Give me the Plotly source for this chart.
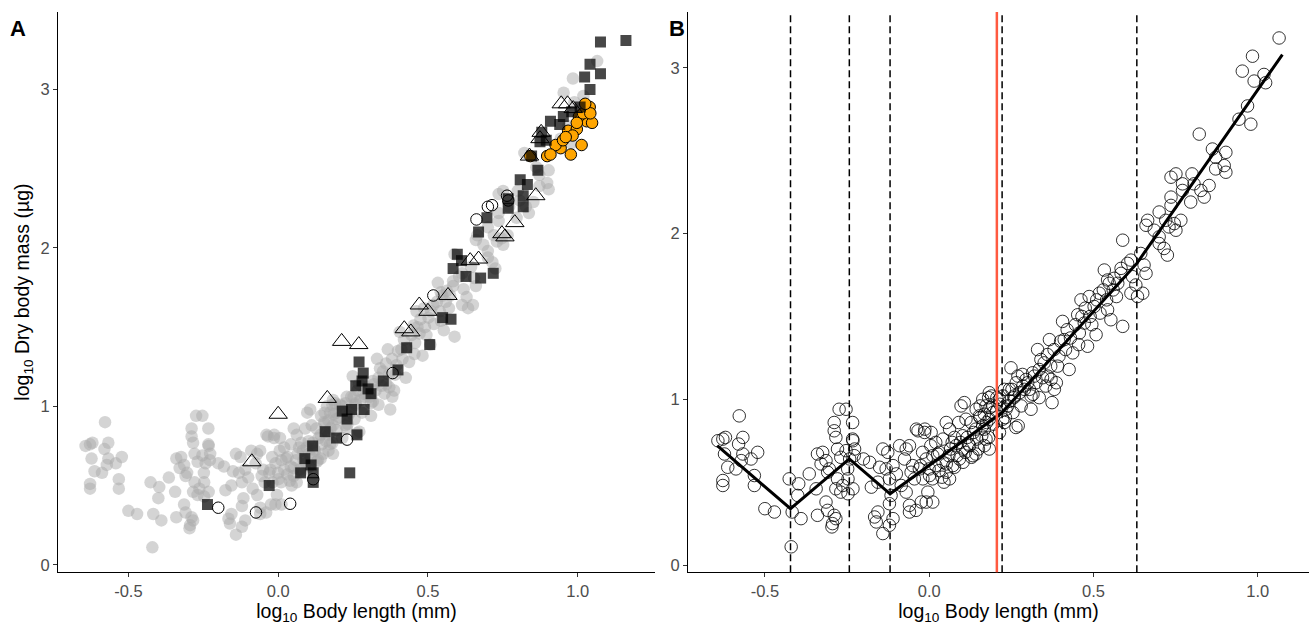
import plotly.graph_objects as go

# Full sample: log10 body length (mm) vs log10 dry body mass (ug)
body_len = [
    -0.578, -0.643, -0.628, -0.620, -0.567, -0.580, -0.623, -0.567, -0.542, -0.522,
    -0.613, -0.588, -0.572, -0.628, -0.628, -0.532, -0.532, -0.500, -0.471, -0.426,
    -0.397, -0.400, -0.417, -0.390, -0.420,
    -0.365, -0.340, -0.324, -0.329, -0.314, -0.304, -0.344, -0.340, -0.314, -0.309,
    -0.289, -0.294, -0.296, -0.284, -0.289, -0.289, -0.284, -0.274, -0.253, -0.233,
    -0.279, -0.269, -0.253, -0.248, -0.279, -0.263, -0.269, -0.284, -0.309, -0.233,
    -0.228,
    -0.232, -0.227, -0.242, -0.247, -0.232, -0.247, -0.200, -0.181, -0.176, -0.156,
    -0.141, -0.126, -0.151, -0.131, -0.110, -0.100, -0.121, -0.116, -0.121, -0.110,
    -0.121, -0.141, -0.161, -0.156, -0.166, -0.090, -0.070, -0.060, -0.075, -0.085,
    -0.070, -0.060, -0.060, -0.040, -0.024, -0.009, 0.011, -0.004, -0.034, -0.014,
    0.006, -0.050, -0.030, -0.009, 0.011, -0.019, 0.001, 0.031, 0.042, 0.052,
    0.062, 0.042, 0.062, 0.052, 0.082, 0.092, 0.072, 0.102, 0.123, 0.112,
    0.128, 0.097, 0.107, 0.133, 0.143, 0.153, 0.163, 0.173, 0.163, 0.183,
    0.194, 0.183, 0.214, 0.224, 0.214, 0.244, 0.234,
    0.173, 0.183, 0.168, 0.229, 0.239, 0.229, 0.264, 0.249, 0.270, 0.259,
    0.290, 0.280, 0.310, 0.300, 0.320, 0.330, 0.340, 0.366, 0.371, 0.381,
    0.391, 0.406, 0.411, 0.426, 0.437, 0.452, 0.457, 0.472, 0.482, 0.462,
    0.487, 0.502, 0.508, 0.518, 0.543, 0.533, 0.548, 0.553, 0.589, 0.563,
    0.584, 0.604, 0.619, 0.629, 0.634, 0.650, 0.644, 0.614,
    1.065, 0.984, 0.953, 1.019, 0.989, 1.024, 0.969, 0.943, 0.979, 0.822,
    0.862, 0.903, 0.872, 0.898, 0.872, 0.903, 0.751, 0.736, 0.800, 0.771,
    0.806, 0.852, 0.771, 0.827, 0.736, 0.837, 0.796, 0.736, 0.700, 0.665,
    0.660, 0.720, 0.766, 0.746, 0.730, 0.685, 0.700, 0.751, 0.589, 0.715,
    0.725, 0.700, 0.654, 0.660, 0.584, 0.543, 0.574, 0.614,
    0.284, 0.387, 0.355, 0.361, 0.316, 0.271, 0.181, 0.168, 0.142, 0.129,
    0.103, 0.077, 0.039, 0.116, 0.142, 0.155, 0.168, 0.181, 0.194, 0.077,
    0.103, 0.065, 0.090, -0.013, -0.039, 0.026, 0.052, 0.000, -0.026, 0.258,
    0.310, 0.335, 0.374, 0.232, 0.206, 0.252,
    0.195, 0.205, 0.215, 0.190, 0.225, 0.245, 0.255, 0.265, 0.275, 0.285,
    0.295, 0.305, 0.315, 0.325, 0.335, 0.345, 0.350, 0.360, 0.370, 0.380,
    0.395, 0.400, 0.415, 0.420, 0.430, 0.445, 0.455, 0.465, 0.475, 0.490,
    0.495, 0.510, 0.520, 0.530, 0.540, 0.560, 0.570, 0.145, 0.135, 0.120,
    0.110, 0.095, 0.085, 0.060, 0.070, 0.150, 0.160, 0.175, 0.185, 0.155,
    0.030, 0.020, 0.010, 0.045, -0.045, -0.055, -0.020, 0.005, 0.020,
]
body_mass = [
    0.90, 0.75, 0.76, 0.77, 0.77, 0.73, 0.67, 0.67, 0.64, 0.68,
    0.59, 0.58, 0.63, 0.51, 0.48, 0.54, 0.48, 0.34, 0.32, 0.52,
    0.49, 0.42, 0.32, 0.28, 0.11,
    0.55, 0.67, 0.68, 0.61, 0.63, 0.58, 0.46, 0.30, 0.38, 0.33,
    0.30, 0.25, 0.23, 0.28, 0.86, 0.81, 0.77, 0.94, 0.94, 0.86,
    0.70, 0.65, 0.69, 0.58, 0.52, 0.48, 0.44, 0.46, 0.56, 0.76,
    0.66,
    0.75, 0.70, 0.64, 0.52, 0.46, 0.43, 0.64, 0.62, 0.47, 0.50,
    0.70, 0.68, 0.59, 0.58, 0.60, 0.55, 0.52, 0.42, 0.37, 0.28,
    0.24, 0.19, 0.26, 0.32, 0.29, 0.72, 0.70, 0.72, 0.64, 0.48,
    0.44, 0.36, 0.32, 0.33, 0.38, 0.38, 0.38, 0.44, 0.81, 0.80,
    0.80, 0.60, 0.58, 0.64, 0.66, 0.52, 0.54, 0.68, 0.62, 0.56,
    0.52, 0.76, 0.82, 0.86, 0.72, 0.64, 0.60, 0.78, 0.72, 0.88,
    0.86, 0.96, 0.98, 0.66, 0.94, 0.90, 0.84, 0.76, 1.00, 1.04,
    0.92, 0.70, 0.80, 0.88, 1.00, 1.06, 0.94,
    0.96, 0.88, 0.82, 1.06, 0.96, 0.86, 0.83, 1.19, 1.14, 1.02,
    1.06, 0.96, 1.02, 1.10, 1.14, 1.30, 1.24, 1.36, 1.12, 1.06,
    1.20, 1.47, 1.36, 1.18, 1.28, 1.51, 1.40, 1.46, 1.32, 1.60,
    1.62, 1.56, 1.39, 1.64, 1.54, 1.78, 1.70, 1.48, 1.44, 1.73,
    1.76, 1.82, 1.74, 1.69, 1.62, 1.64, 1.88, 1.84,
    3.18, 3.07, 2.98, 2.96, 2.92, 2.91, 2.77, 2.69, 2.66, 2.60,
    2.51, 2.49, 2.46, 2.41, 2.39, 2.37, 2.36, 2.34, 2.36, 2.30,
    2.30, 2.29, 2.26, 2.26, 2.22, 2.22, 2.19, 2.17, 2.13, 2.08,
    2.05, 2.08, 2.08, 2.06, 2.04, 2.02, 1.98, 2.02, 1.96, 1.91,
    1.87, 1.94, 1.81, 1.76, 1.79, 1.72, 1.70, 1.64,
    1.15, 1.10, 1.08, 1.14, 1.03, 0.84, 0.77, 0.72, 0.67, 0.65,
    0.62, 0.59, 0.53, 0.77, 0.82, 0.89, 0.91, 1.01, 0.96, 0.77,
    0.70, 0.70, 0.86, 0.82, 0.82, 0.67, 0.61, 0.58, 0.60, 1.01,
    0.94, 1.01, 0.98, 0.89, 1.01, 1.06,
    0.85, 0.93, 0.97, 1.02, 1.02, 0.99, 0.92, 1.10, 1.04, 1.08,
    1.12, 1.06, 1.16, 1.10, 1.18, 1.13, 1.22, 1.27, 1.20, 1.30,
    1.26, 1.35, 1.30, 1.42, 1.37, 1.45, 1.33, 1.50, 1.55, 1.50,
    1.45, 1.60, 1.52, 1.66, 1.60, 1.66, 1.62, 0.76, 0.80, 0.73,
    0.68, 0.74, 0.66, 0.66, 0.74, 0.70, 0.78, 0.86, 0.95, 0.96,
    0.57, 0.60, 0.52, 0.50, 0.52, 0.56, 0.68, 0.72, 0.74,
]

# Comparison groups in panel A
sq_len = [1.076, 1.161, 1.041, 1.076, 1.023, 1.041, 1.008, 0.980, 0.952, 0.909,
          0.940, 0.880, 0.874, 0.895, 0.846, 0.867, 0.808, 0.832, 0.818, 0.768,
          0.818, 0.768, 0.697, 0.669, 0.598, 0.584, 0.627, 0.676, 0.718, 0.612,
          0.549, 0.577, 0.506, 0.429, 0.400, 0.351, 0.270, 0.284, 0.280, 0.259,
          0.300, 0.310, 0.287, 0.245, 0.214, 0.230, 0.263, 0.195, 0.157, 0.115,
          0.089, 0.110, 0.075, 0.117, 0.117, 0.239, -0.030, -0.236]
sq_mass = [3.30, 3.31, 3.16, 3.10, 3.08, 3.00, 2.89, 2.86, 2.83, 2.80,
           2.78, 2.73, 2.67, 2.68, 2.58, 2.49, 2.43, 2.40, 2.33, 2.31,
           2.26, 2.25, 2.19, 2.10, 1.96, 1.87, 1.82, 1.81, 1.84, 1.92,
           1.56, 1.55, 1.39, 1.37, 1.23, 1.16, 1.28, 1.21, 1.16, 1.13,
           1.11, 1.08, 0.98, 0.98, 0.97, 0.92, 0.82, 0.80, 0.84, 0.75,
           0.67, 0.63, 0.58, 0.58, 0.52, 0.58, 0.50, 0.38]

tri_len = [0.945, 0.966, 0.985, 0.878, 0.874, 0.839, 0.860, 0.790, 0.747, 0.757,
           0.641, 0.669, 0.567, 0.471, 0.500, 0.421, 0.443, 0.212, 0.269, 0.164,
           0.000, -0.088]
tri_mass = [2.91, 2.91, 2.88, 2.73, 2.69, 2.58, 2.33, 2.16, 2.09, 2.07,
            1.92, 1.93, 1.70, 1.64, 1.60, 1.49, 1.47, 1.41, 1.39, 1.05,
            0.95, 0.65]

open_len = [0.662, 0.700, 0.714, 0.764, 0.768, 0.518, 0.382, 0.230, 0.117, 0.040,
            -0.074, -0.200]
open_mass = [2.18, 2.26, 2.27, 2.33, 2.30, 1.70, 1.21, 0.79, 0.54, 0.385,
             0.33, 0.36]

orange_len = [0.898, 0.977, 1.013, 0.943, 0.926, 0.951, 0.968, 0.997, 1.030, 1.048,
              1.004, 1.018, 1.040, 1.042, 0.997, 0.983, 0.960, 1.025, 0.842, 0.909]
orange_mass = [2.58, 2.59, 2.65, 2.63, 2.65, 2.68, 2.74, 2.75, 2.80, 2.79,
               2.83, 2.85, 2.89, 2.85, 2.79, 2.71, 2.70, 2.91, 2.58, 2.59]

# Segmented fit and breakpoints in panel B
fit_len = [-0.645, -0.422, -0.243, -0.119, 0.222, 0.632, 1.075]
fit_mass = [0.72, 0.34, 0.64, 0.43, 0.92, 1.82, 3.08]
breakpoints = [-0.422, -0.243, -0.119, 0.222, 0.632]
threshold = 0.206

FONT = "Liberation Sans, Arial, sans-serif"
TICK_GREY = "#4D4D4D"

fig = go.Figure()

# Panel A
fig.add_trace(go.Scatter(
    x=body_len, y=body_mass, mode="markers", xaxis="x", yaxis="y",
    marker=dict(symbol="circle", size=12.5, color="rgba(169,169,169,0.5)", line=dict(width=0)),
    hoverinfo="skip", showlegend=False))
fig.add_trace(go.Scatter(
    x=orange_len, y=orange_mass, mode="markers", xaxis="x", yaxis="y",
    marker=dict(symbol="circle", size=11.5, color="#FFA500", line=dict(width=1, color="black")),
    showlegend=False))
fig.add_trace(go.Scatter(
    x=open_len, y=open_mass, mode="markers", xaxis="x", yaxis="y",
    marker=dict(symbol="circle-open", size=11.5, color="black", line=dict(width=1)),
    showlegend=False))
fig.add_trace(go.Scatter(
    x=sq_len, y=sq_mass, mode="markers", xaxis="x", yaxis="y",
    marker=dict(symbol="square", size=11, color="rgba(0,0,0,0.72)", line=dict(width=0)),
    showlegend=False))
fig.add_trace(go.Scatter(
    x=tri_len, y=tri_mass, mode="markers", xaxis="x", yaxis="y",
    marker=dict(symbol="triangle-up-open", size=16, color="black", line=dict(width=1)),
    showlegend=False))

# Panel B
fig.add_trace(go.Scatter(
    x=body_len, y=body_mass, mode="markers", xaxis="x2", yaxis="y2",
    marker=dict(symbol="circle-open", size=12.5, color="rgba(0,0,0,0.8)", line=dict(width=1)),
    showlegend=False))
fig.add_trace(go.Scatter(
    x=fit_len, y=fit_mass, mode="lines", xaxis="x2", yaxis="y2",
    line=dict(color="black", width=3), showlegend=False))

shapes = []
for bp in breakpoints:
    shapes.append(dict(type="line", xref="x2", yref="y2 domain", x0=bp, x1=bp, y0=0, y1=1,
                       line=dict(color="black", width=1.5, dash="7px,4px")))
shapes.append(dict(type="line", xref="x2", yref="y2 domain", x0=threshold, x1=threshold,
                   y0=0, y1=1, line=dict(color="#FF5A40", width=2.5)))

axis_common = dict(
    showline=True, linecolor="black", linewidth=1.2, mirror=False,
    ticks="outside", ticklen=4, tickwidth=1, tickcolor="#333333",
    tickfont=dict(family=FONT, size=16.5, color=TICK_GREY),
    showgrid=False, zeroline=False,
)
xticks = dict(tickvals=[-0.5, 0.0, 0.5, 1.0], ticktext=["-0.5", "0.0", "0.5", "1.0"])
yticks = dict(tickvals=[0, 1, 2, 3], ticktext=["0", "1", "2", "3"])
xtitle = dict(text="log<sub>10</sub> Body length (mm)", font=dict(family=FONT, size=19.5, color="black"),
              standoff=3)

fig.update_layout(
    width=1311, height=628,
    margin=dict(l=0, r=0, t=0, b=0),
    plot_bgcolor="white", paper_bgcolor="white",
    font=dict(family=FONT),
    xaxis=dict(domain=[58 / 1311, 655 / 1311], range=[-0.735, 1.258], anchor="y",
               title=xtitle, **xticks, **axis_common),
    yaxis=dict(domain=[54 / 628, 616 / 628], range=[-0.047, 3.49], anchor="x",
               title=dict(text="log<sub>10</sub> Dry body mass (µg)",
                          font=dict(family=FONT, size=19.5, color="black"), standoff=5),
               **yticks, **axis_common),
    xaxis2=dict(domain=[688 / 1311, 1309 / 1311], range=[-0.734, 1.156], anchor="y2",
                title=xtitle, **xticks, **axis_common),
    yaxis2=dict(domain=[54 / 628, 616 / 628], range=[-0.043, 3.337], anchor="x2",
                **yticks, **axis_common),
    shapes=shapes,
    annotations=[
        dict(text="<b>A</b>", x=8 / 1311, y=1 - 14 / 628, xref="paper", yref="paper",
             xanchor="left", yanchor="top", showarrow=False,
             font=dict(family=FONT, size=22, color="black")),
        dict(text="<b>B</b>", x=667 / 1311, y=1 - 14 / 628, xref="paper", yref="paper",
             xanchor="left", yanchor="top", showarrow=False,
             font=dict(family=FONT, size=22, color="black")),
    ],
)

fig.write_html("out.html")
